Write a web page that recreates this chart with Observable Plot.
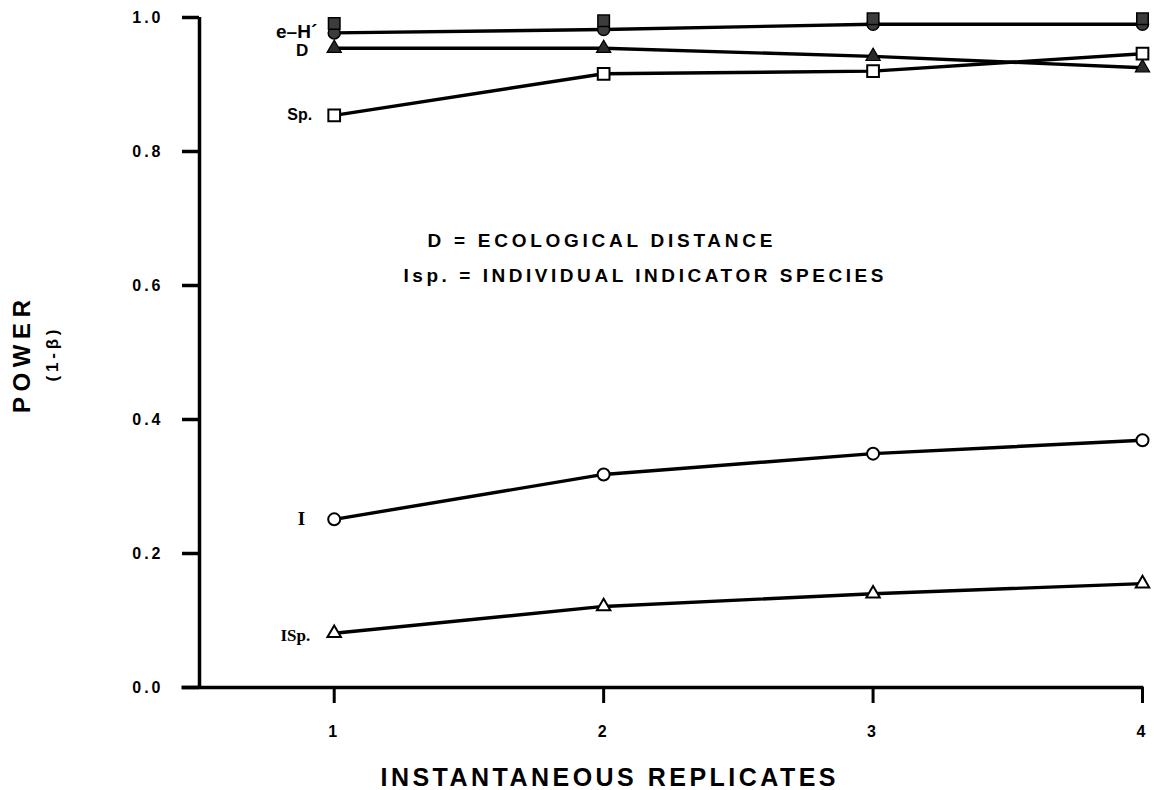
<!DOCTYPE html>
<html>
<head>
<meta charset="utf-8">
<script src="https://cdn.jsdelivr.net/npm/d3@7"></script>
<script src="https://cdn.jsdelivr.net/npm/@observablehq/plot@0.6"></script>
<style>
  html, body { margin: 0; padding: 0; background: #fff; }
  #chart svg { display: block; }
</style>
</head>
<body>
<div id="chart"></div>
<script>
// ---- data ----
const replicates = [1, 2, 3, 4];
const eHcircle = [0.977, 0.982, 0.990, 0.990];   // filled circles (e^-H')
const eHsquare = [0.991, 0.995, 0.998, 0.998];   // filled squares
const dValues = [0.954, 0.954, 0.942, 0.925];    // D, filled triangles
const spValues = [0.854, 0.916, 0.920, 0.946];   // Sp., open squares
const iValues = [0.251, 0.318, 0.349, 0.369];    // I, open circles
const ispValues = [0.081, 0.121, 0.140, 0.155];  // ISp., open triangles
const yTicks = [0.0, 0.2, 0.4, 0.6, 0.8, 1.0];
const xTicks = [1, 2, 3, 4];

const seriesLabels = [
  {name: "e\u2013H\u00B4", x: 1, y: 0.979, size: 19, dx: -17, serif: false},
  {name: "D", x: 1, y: 0.951, size: 17, dx: -26, serif: false},
  {name: "Sp.", x: 1, y: 0.854, size: 16, dx: -22, serif: false},
  {name: "I", x: 1, y: 0.252, size: 19, dx: -29, serif: true},
  {name: "ISp.", x: 1, y: 0.078, size: 17, dx: -24, serif: true}
];
const legendLines = [
  {text: "D = ECOLOGICAL DISTANCE", x: 1.346, y: 0.666, len: 345},
  {text: "Isp. = INDIVIDUAL INDICATOR SPECIES", x: 1.257, y: 0.615, len: 480}
];
const xTitle = "INSTANTANEOUS REPLICATES";
const yTitle = "POWER";
const ySubTitle = "(1-\u03B2)";

const mk = (vals) => replicates.map((r, i) => ({x: r, y: vals[i]}));
const sans = "'Liberation Sans', Arial, Helvetica, sans-serif";
const serif = "'Liberation Serif', 'Times New Roman', serif";

const chart = Plot.plot({
  width: 1154,
  height: 790,
  marginLeft: 199,
  marginRight: 12,
  marginTop: 17,
  marginBottom: 103,
  style: {fontFamily: sans, background: "#fff", color: "#000", fontSize: "16px"},
  x: {domain: [0.5, 4], axis: null},
  y: {domain: [0, 1], axis: null},
  marks: [
    // axes lines
    Plot.ruleX([0.5], {y1: 0, y2: 1, stroke: "#000", strokeWidth: 3.5}),
    Plot.ruleY([0], {x1: 0.435, x2: 4.005, stroke: "#000", strokeWidth: 3.5}),
    Plot.axisY(yTicks, {tickSize: 17, strokeWidth: 3.5, tickPadding: 19, tickFormat: d3.format(".1f"),
      fontWeight: "bold", label: null, anchor: "left"}),
    Plot.axisX(xTicks, {tickSize: 16, strokeWidth: 3, tickPadding: 22, tickFormat: d3.format("d"),
      fontWeight: "bold", label: null, anchor: "bottom"}),
    // lines
    Plot.line(mk(eHcircle), {x: "x", y: "y", stroke: "#000", strokeWidth: 3.4}),
    Plot.line(mk(dValues), {x: "x", y: "y", stroke: "#000", strokeWidth: 3.4}),
    Plot.line(mk(spValues), {x: "x", y: "y", stroke: "#000", strokeWidth: 3.4}),
    Plot.line(mk(iValues), {x: "x", y: "y", stroke: "#000", strokeWidth: 3.4}),
    Plot.line(mk(ispValues), {x: "x", y: "y", stroke: "#000", strokeWidth: 3.4}),
    // markers
    Plot.dot(mk(eHcircle), {x: "x", y: "y", symbol: "circle", r: 6, fill: "#3c3c3c", stroke: "#000", strokeWidth: 1.5}),
    Plot.dot(mk(eHsquare), {x: "x", y: "y", symbol: "square", r: 6.5, fill: "#3c3c3c", stroke: "#000", strokeWidth: 1.5}),
    Plot.dot(mk(dValues), {x: "x", y: "y", symbol: "triangle", r: 5.3, fill: "#2a2a2a", stroke: "#000", strokeWidth: 1.2}),
    Plot.dot(mk(spValues), {x: "x", y: "y", symbol: "square", r: 6.6, fill: "#fff", stroke: "#000", strokeWidth: 2}),
    Plot.dot(mk(iValues), {x: "x", y: "y", symbol: "circle", r: 6, fill: "#fff", stroke: "#000", strokeWidth: 2}),
    Plot.dot(mk(ispValues), {x: "x", y: "y", symbol: "triangle", r: 5, fill: "#fff", stroke: "#000", strokeWidth: 2}),
    // series labels
    ...seriesLabels.map(d => Plot.text([d], {x: "x", y: "y", text: "name", dx: d.dx, textAnchor: "end",
      fontSize: d.size, fontWeight: "bold", fontFamily: d.serif ? serif : sans})),
    // legend text
    Plot.text(legendLines, {x: "x", y: "y", text: "text", textAnchor: "start", fontSize: 19, fontWeight: "bold",
      fontFamily: sans}),
    // axis titles
    Plot.text([xTitle], {frameAnchor: "bottom", dx: -63, dy: 90, text: d => d, fontSize: 25,
      fontWeight: "bold", fontFamily: sans, textAnchor: "middle", lineAnchor: "middle"}),
    Plot.text([yTitle], {frameAnchor: "left", dx: -177, dy: 4, rotate: -90, text: d => d, fontSize: 24,
      fontWeight: "bold", fontFamily: sans, textAnchor: "middle", lineAnchor: "middle"}),
    Plot.text([ySubTitle], {frameAnchor: "left", dx: -147, dy: 3, rotate: -90, text: d => d, fontSize: 17,
      fontWeight: "bold", fontFamily: sans, textAnchor: "middle", lineAnchor: "middle"})
  ]
});

// wide, typewriter-like lettering
const fitted = new Map(legendLines.map(d => [d.text, d.len]));
fitted.set(xTitle, 455);
fitted.set(yTitle, 113);
fitted.set(ySubTitle, 52);
d3.select(chart).selectAll("text").each(function() {
  const t = d3.select(this);
  const txt = this.textContent;
  if (fitted.has(txt)) {
    t.attr("textLength", fitted.get(txt)).attr("lengthAdjust", "spacing");
  } else if (/^[0-9.]+$/.test(txt)) {
    t.style("letter-spacing", "3px").style("font-size", "16px");
  }
});
document.getElementById("chart").appendChild(chart);
</script>
</body>
</html>
